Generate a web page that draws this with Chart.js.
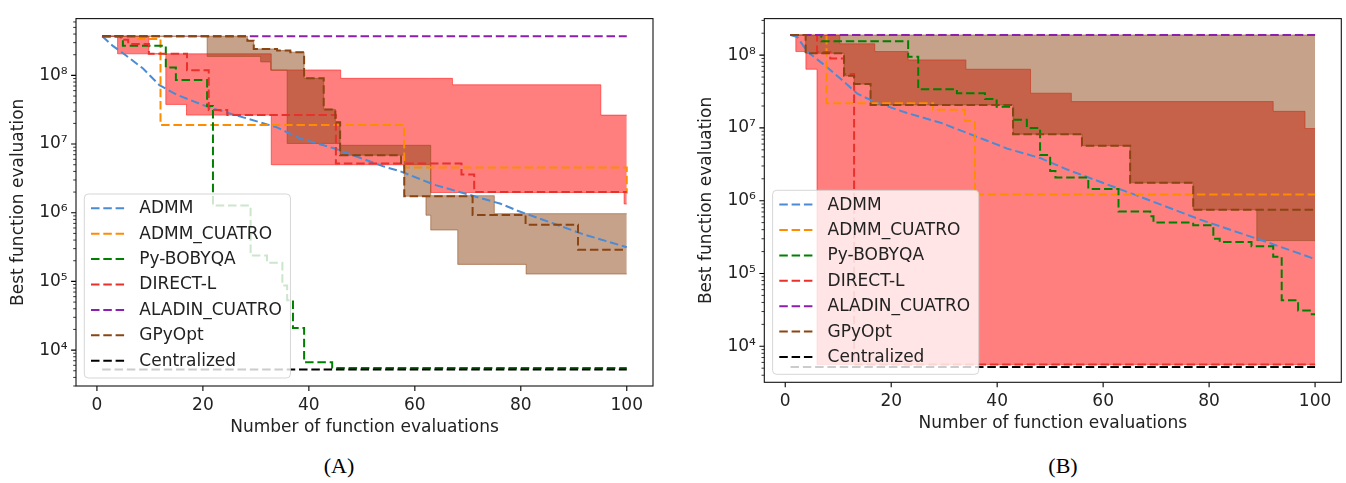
<!DOCTYPE html>
<html><head><meta charset="utf-8">
<script src="https://cdn.jsdelivr.net/npm/chart.js@4"></script>
<style>
html,body{margin:0;padding:0;background:#fff;width:1346px;height:483px;overflow:hidden;}
#cA{position:absolute;left:0;top:0;}
#cB{position:absolute;left:688px;top:0;}
.cap{position:absolute;font-family:"Liberation Serif","Times New Roman",serif;font-size:22px;color:#000;transform:translateX(-50%);white-space:nowrap;}
</style></head><body>
<canvas id="cA" width="670" height="445"></canvas>
<canvas id="cB" width="658" height="441"></canvas>
<div class="cap" style="left:339px;top:453px;">(A)</div>
<div class="cap" style="left:1063px;top:453px;">(B)</div>
<script>
// ---------- shared ----------
const methods = ['ADMM','ADMM_CUATRO','Py-BOBYQA','DIRECT-L','ALADIN_CUATRO','GPyOpt','Centralized'];
const xTicks = [0,20,40,60,80,100];
const yTicks = [1e4,1e5,1e6,1e7,1e8];
const yTickLabels = ['10⁴','10⁵','10⁶','10⁷','10⁸'];

// ---------- panel A ----------
const A_ADMM_x = [1,3,5.5,8.7,11.8,15,21.3,27.6,33.9,38.4,44.7,54.2,57.3,63.6,69.9,76.2,79.4,86.3,92,100];
const A_ADMM_y = [3.72e8,2.69e8,1.95e8,1.26e8,7.2e7,5.25e7,3.39e7,2.45e7,1.76e7,1.2e7,8.7e6,4.7e6,4.0e6,2.57e6,1.86e6,1.35e6,1.07e6,6.9e5,4.8e5,3.15e5];
const A_CUATRO_x = [1,7.7,12,58,100];
const A_CUATRO_y = [3.72e8,3.4e8,1.9e7,4.57e6,1.9e6];
const A_BOBYQA_x = [1,4.9,13.0,14.9,20.8,21.9,29.0,32.1,35.0,35.9,37.0,39.1,44.4,100];
const A_BOBYQA_y = [3.72e8,2.71e8,1.3e8,8.6e7,3.58e7,1.27e6,2.38e5,1.87e5,8.7e4,5.3e4,2.1e4,6.65e3,5.5e3,5.5e3];
const A_DIRECT_x = [1,4.5,5.9,9.8,17,21.1,24.6,45.1,68.8,71.2,100];
const A_DIRECT_y = [3.72e8,3.3e8,2.86e8,2.06e8,1.19e8,3.14e7,2.64e7,5.2e6,3.6e6,2.0e6,2.0e6];
const A_ALADIN_x = [1,100];
const A_ALADIN_y = [3.72e8,3.72e8];
const A_GPY_x = [1,28.4,29.6,34.0,36.5,39.1,42.8,45.0,45.9,57.4,58.0,70.9,80.9,90.8,100];
const A_GPY_y = [3.72e8,3.2e8,2.43e8,2.3e8,2.18e8,9.06e7,3.2e7,2.07e7,6.9e6,5.1e6,1.74e6,9.3e5,6.7e5,2.9e5,2.9e5];
const A_CENT_x = [1,100];
const A_CENT_y = [5.2e3,5.2e3];
// bands (min / max across runs)
const A_DIRECT_band_x = [1,3.9,9.8,13,16.9,32.9,46,63,67.1,95.1,99.5,100];
const A_DIRECT_band_max = [3.72e8,3.72e8,2.06e8,2.06e8,2.06e8,1.2e8,9.06e7,9.06e7,7.3e7,2.64e7,2.64e7,2.64e7];
const A_DIRECT_band_min = [3.72e8,2.06e8,2.06e8,3.78e7,2.64e7,5.0e6,5.0e6,1.97e6,1.97e6,1.97e6,1.34e6,1.34e6];
const A_GPY_band_x = [1,20.8,28.4,29.6,30.9,32.8,34,35.9,36.5,39.1,42.8,45,45.9,58,62.1,63,68.1,75,81,100];
const A_GPY_band_max = [3.72e8,3.72e8,3.2e8,2.43e8,2.43e8,2.43e8,2.3e8,2.3e8,2.18e8,9.06e7,3.2e7,2.07e7,9.6e6,9.6e6,9.6e6,1.77e6,1.77e6,9.7e5,9.7e5,9.7e5];
const A_GPY_band_min = [3.72e8,1.89e8,1.89e8,1.89e8,1.57e8,1.19e8,1.19e8,1.02e7,1.02e7,1.02e7,1.02e7,1.02e7,6.9e6,1.74e6,9.2e5,5.6e5,1.77e5,1.77e5,1.28e5,1.28e5];

// ---------- panel B ----------
const B_ADMM_x = [1,2.3,4.15,7.3,10.5,13.6,16.7,23,29.3,35.6,41.9,48.2,53.1,65.7,78.3,90.9,100];
const B_ADMM_y = [1.89e8,1.77e8,1.12e8,7.4e7,4.7e7,2.96e7,2.3e7,1.6e7,1.18e7,7.85e6,5.2e6,3.84e6,2.7e6,1.23e6,5.5e5,2.7e5,1.58e5];
const B_CUATRO_x = [1,7.8,27.9,33.9,35.8,100];
const B_CUATRO_y = [1.89e8,2.18e7,1.77e7,1.24e7,1.22e6,1.22e6];
const B_BOBYQA_x = [1,6.8,23.2,25.1,32.4,37.7,39.9,43.0,45.6,48.1,50.0,51.0,57.2,62.9,68.9,69.5,77,80.8,82,88,92.1,93.7,96.8,99,100];
const B_BOBYQA_y = [1.89e8,1.55e8,9.5e7,3.4e7,3.0e7,2.5e7,1.95e7,1.3e7,1.0e7,4.25e6,2.55e6,2.08e6,1.45e6,7.1e5,6.1e5,5.0e5,4.6e5,3.0e5,2.7e5,2.36e5,1.7e5,4.3e4,3.1e4,2.75e4,2.75e4];
const B_DIRECT_x = [1,6.0,8.5,11.1,13.0,100];
const B_DIRECT_y = [1.89e8,1.1e8,9.0e7,5.5e7,5.6e3,5.6e3];
const B_ALADIN_x = [1,100];
const B_ALADIN_y = [1.89e8,1.89e8];
const B_GPY_x = [1,3.85,11.1,13.0,16.1,43.0,56.0,65.1,77.0,100];
const B_GPY_y = [1.89e8,1.06e8,5.2e7,4.0e7,2.07e7,8.2e6,5.7e6,1.76e6,7.5e5,7.5e5];
const B_CENT_x = [1,100];
const B_CENT_y = [5.2e3,5.2e3];
const B_DIRECT_band_x = [1,2.0,3.9,6.0,10.3,16.9,23.2,34.1,46.3,54.0,92.1,98.1,100];
const B_DIRECT_band_max = [1.89e8,1.89e8,1.89e8,1.89e8,1.43e8,1.12e8,8.6e7,6.4e7,3.0e7,2.3e7,1.69e7,9.8e6,9.8e6];
const B_DIRECT_band_min = [1.89e8,1.12e8,6.4e7,5.6e3,5.6e3,5.6e3,5.6e3,5.6e3,5.6e3,5.6e3,5.6e3,5.6e3,5.6e3];
const B_GPY_band_x = [1,3.85,11.1,13.0,16.1,43.0,56.0,65.1,77.0,89.0,100];
const B_GPY_band_max = [1.89e8,1.89e8,1.89e8,1.89e8,1.89e8,1.89e8,1.89e8,1.89e8,1.89e8,1.89e8,1.89e8];
const B_GPY_band_min = [1.89e8,1.06e8,5.2e7,4.0e7,2.07e7,8.2e6,5.7e6,1.76e6,7.5e5,2.83e5,2.83e5];

// ---------- styling ----------
const colors = ['#4a8bd4','#ff8c00','#008000','#e8312a','#8b1fb0','#8b4513','#000000'];
const DASH = [8.5, 3.8];

Chart.defaults.font.family = '"DejaVu Sans", sans-serif';
Chart.defaults.font.size = 17;
Chart.defaults.color = '#222';

const pts = (xs, ys) => xs.map((x, i) => ({x: x, y: ys[i]}));

function lineDs(i, xs, ys, stepped) {
  return {label: methods[i], data: pts(xs, ys), borderColor: colors[i], borderWidth: 2,
    borderDash: DASH, pointRadius: 0, fill: false, stepped: stepped ? 'before' : false,
    tension: 0, order: 7 - i};
}
function bandDs(xs, maxs, mins, rgb, order) {
  const c = 'rgba(' + rgb + ',0.5)';
  return [
    {label: '_max', isBand: true, data: pts(xs, maxs), borderColor: c, borderWidth: 1, pointRadius: 0,
     fill: false, stepped: 'before', order: order + 1},
    {label: '_min', isBand: true, data: pts(xs, mins), borderColor: c, borderWidth: 1, pointRadius: 0,
     backgroundColor: c, fill: '-1', stepped: 'before', order: order}
  ];
}

const frameLegend = {
  id: 'frameLegend',
  afterDraw(chart) {
    const {ctx, chartArea: ca} = chart;
    const xs = chart.scales.x, ys = chart.scales.y;
    ctx.save();
    ctx.setLineDash([]);
    ctx.strokeStyle = '#000';
    ctx.lineWidth = 1.1;
    ctx.beginPath();
    xTicks.forEach(t => { const p = xs.getPixelForValue(t); ctx.moveTo(p, ca.bottom); ctx.lineTo(p, ca.bottom + 4.9); });
    yTicks.forEach(t => { const p = ys.getPixelForValue(t); ctx.moveTo(ca.left, p); ctx.lineTo(ca.left - 4.9, p); });
    ctx.stroke();
    ctx.lineWidth = 0.8;
    ctx.beginPath();
    for (let d = 3; d <= 8; d++) for (let k = 2; k <= 9; k++) {
      const v = k * Math.pow(10, d);
      if (v < ys.min || v > ys.max) continue;
      const p = ys.getPixelForValue(v);
      ctx.moveTo(ca.left, p); ctx.lineTo(ca.left - 2.8, p);
    }
    ctx.stroke();
    ctx.lineWidth = 1.1;
    ctx.strokeStyle = '#111';
    ctx.strokeRect(ca.left, ca.top, ca.right - ca.left, ca.bottom - ca.top);

    // legend (matplotlib style, lower left inside axes)
    const items = chart.data.datasets.filter(d => !d.isBand);
    ctx.font = '17px "DejaVu Sans"';
    const maxW = Math.max(...items.map(d => ctx.measureText(d.label).width));
    const bw = 55 + maxW + 8.5, bh = 184;
    const bx = ca.left + 8.3, by = ca.bottom - 8 - bh;
    const r = 4;
    ctx.beginPath();
    ctx.moveTo(bx + r, by); ctx.lineTo(bx + bw - r, by); ctx.quadraticCurveTo(bx + bw, by, bx + bw, by + r);
    ctx.lineTo(bx + bw, by + bh - r); ctx.quadraticCurveTo(bx + bw, by + bh, bx + bw - r, by + bh);
    ctx.lineTo(bx + r, by + bh); ctx.quadraticCurveTo(bx, by + bh, bx, by + bh - r);
    ctx.lineTo(bx, by + r); ctx.quadraticCurveTo(bx, by, bx + r, by);
    ctx.closePath();
    ctx.fillStyle = 'rgba(255,255,255,0.8)';
    ctx.fill();
    ctx.strokeStyle = 'rgba(204,204,204,0.8)';
    ctx.lineWidth = 1;
    ctx.stroke();
    items.forEach((d, i) => {
      const yy = by + 14.3 + i * 25.4;
      ctx.setLineDash(d.borderDash);
      ctx.strokeStyle = d.borderColor;
      ctx.lineWidth = d.borderWidth;
      ctx.beginPath(); ctx.moveTo(bx + 6.7, yy); ctx.lineTo(bx + 41.4, yy); ctx.stroke();
      ctx.setLineDash([]);
      ctx.fillStyle = '#222';
      ctx.textBaseline = 'middle';
      ctx.textAlign = 'left';
      ctx.fillText(d.label, bx + 55, yy + 0.5);
    });
    ctx.restore();
  }
};

function makeChart(id, datasets, cfg) {
  return new Chart(document.getElementById(id), {
    type: 'line',
    data: {datasets: datasets},
    options: {
      responsive: false, animation: false, events: [],
      layout: {padding: {top: cfg.padTop, right: cfg.padRight, left: 0, bottom: 0}},
      plugins: {legend: {display: false}, tooltip: {enabled: false}},
      scales: {
        x: {type: 'linear', min: -3.95, max: 104.95, bounds: 'data',
          grid: {display: false, drawTicks: false}, border: {display: false},
          afterBuildTicks: s => { s.ticks = xTicks.map(v => ({value: v})); },
          afterFit: s => { s.height = cfg.xAxisH; },
          ticks: {padding: 9, autoSkip: false, maxRotation: 0, callback: v => String(v)},
          title: {display: true, text: 'Number of function evaluations', padding: {top: 0, bottom: 6.8}}
        },
        y: {type: 'logarithmic', min: Math.pow(10, cfg.yMinExp), max: Math.pow(10, cfg.yMaxExp), bounds: 'data',
          grid: {display: false, drawTicks: false}, border: {display: false},
          afterBuildTicks: s => { s.ticks = yTicks.map(v => ({value: v})); },
          afterFit: s => { s.width = cfg.yAxisW; },
          ticks: {padding: 8.4, autoSkip: false, callback: (v, i) => yTickLabels[i]},
          title: {display: true, text: 'Best function evaluation', padding: {top: 8.3, bottom: 0}}
        }
      }
    },
    plugins: [frameLegend]
  });
}

const dsA = [
  lineDs(0, A_ADMM_x, A_ADMM_y, false),
  lineDs(1, A_CUATRO_x, A_CUATRO_y, true),
  lineDs(2, A_BOBYQA_x, A_BOBYQA_y, true),
  lineDs(3, A_DIRECT_x, A_DIRECT_y, true),
  lineDs(4, A_ALADIN_x, A_ALADIN_y, true),
  lineDs(5, A_GPY_x, A_GPY_y, true),
  lineDs(6, A_CENT_x, A_CENT_y, true),
  ...bandDs(A_DIRECT_band_x, A_DIRECT_band_max, A_DIRECT_band_min, '255,0,0', 21),
  ...bandDs(A_GPY_band_x, A_GPY_band_max, A_GPY_band_min, '139,69,19', 11)
];
const dsB = [
  lineDs(0, B_ADMM_x, B_ADMM_y, false),
  lineDs(1, B_CUATRO_x, B_CUATRO_y, true),
  lineDs(2, B_BOBYQA_x, B_BOBYQA_y, true),
  lineDs(3, B_DIRECT_x, B_DIRECT_y, true),
  lineDs(4, B_ALADIN_x, B_ALADIN_y, true),
  lineDs(5, B_GPY_x, B_GPY_y, true),
  lineDs(6, B_CENT_x, B_CENT_y, true),
  ...bandDs(B_DIRECT_band_x, B_DIRECT_band_max, B_DIRECT_band_min, '255,0,0', 21),
  ...bandDs(B_GPY_band_x, B_GPY_band_max, B_GPY_band_min, '139,69,19', 11)
];

makeChart('cA', dsA, {padTop: 10.7, padRight: 17, xAxisH: 59, yAxisW: 76, yMinExp: 3.477, yMaxExp: 8.827});
makeChart('cB', dsB, {padTop: 7.3, padRight: 4.7, xAxisH: 58.7, yAxisW: 76.3, yMinExp: 3.505, yMaxExp: 8.502});
</script>
</body></html>
